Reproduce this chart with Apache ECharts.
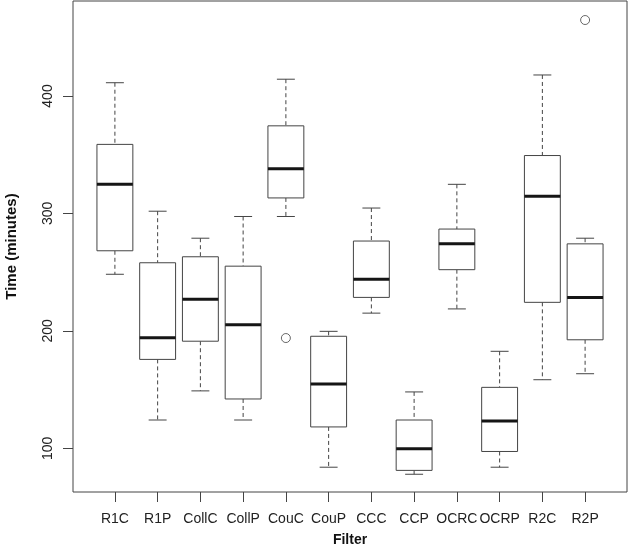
<!DOCTYPE html>
<html>
<head>
<meta charset="utf-8">
<script src="https://cdn.jsdelivr.net/npm/echarts@6/dist/echarts.min.js"></script>
<style>
html,body{margin:0;padding:0;background:#fff;}
#chart{width:630px;height:550px;}
</style>
</head>
<body>
<div id="chart"></div>
<script>
var categories = ['R1C','R1P','CollC','CollP','CouC','CouP','CCC','CCP','OCRC','OCRP','R2C','R2P'];
var whiskerLow  = [248.2, 124.1, 148.9, 124.1, 297.4,  83.9, 215.1,  77.9, 218.7,  83.9, 158.4, 163.5];
var quartile1   = [268.2, 175.7, 191.2, 142.0, 313.2, 118.2, 228.5,  81.2, 252.1,  97.3, 224.3, 192.4];
var medians     = [324.8, 194.2, 227.0, 205.2, 338.0, 154.8, 244.0,  99.7, 274.1, 123.2, 314.7, 228.5];
var quartile3   = [358.8, 258.0, 263.1, 255.1, 374.6, 195.4, 276.5, 124.1, 286.7, 151.9, 349.3, 274.1];
var whiskerHigh = [411.3, 301.9, 278.9, 297.4, 414.3, 199.6, 304.6, 148.0, 324.8, 182.6, 417.9, 278.9];
var outlierCats   = ['CouC', 'R2P'];
var outlierValues = [193.9, 464.7];
var yTicks = [100, 200, 300, 400];

var boxData = categories.map(function(c, i){
  return [i + 1, whiskerLow[i], quartile1[i], medians[i], quartile3[i], whiskerHigh[i]];
});
var outlierData = outlierCats.map(function(c, i){
  return [categories.indexOf(c) + 1, outlierValues[i]];
});
var xTicks = categories.map(function(c, i){ return i + 1; });

var LINE = '#444';
var FONT = "'Liberation Sans', Arial, sans-serif";

var chart = echarts.init(document.getElementById('chart'), null, {renderer:'canvas'});
chart.setOption({
  animation: false,
  backgroundColor: '#fff',
  grid: {left: 73, right: 3, top: 1, bottom: 58, outerBoundsMode: 'none', containLabel: false,
         show: true, borderColor: LINE, borderWidth: 1, backgroundColor: 'transparent'},
  xAxis: {
    type: 'value', min: 0.02, max: 12.98,
    name: 'Filter', nameLocation: 'middle', nameGap: 41,
    nameTextStyle: {fontFamily: FONT, fontWeight: 'bold', fontSize: 14, color: '#111'},
    axisLine: {show: false},
    splitLine: {show: false},
    axisTick: {show: true, length: 10, customValues: xTicks, lineStyle: {color: LINE, width: 1}},
    axisLabel: {customValues: xTicks, margin: 20, fontFamily: FONT, fontSize: 14, color: '#222',
      formatter: function(v){ return categories[Math.round(v) - 1] || ''; }}
  },
  yAxis: {
    type: 'value', min: 62.79, max: 480.9,
    name: 'Time (minutes)', nameLocation: 'middle', nameGap: 54,
    nameTextStyle: {fontFamily: FONT, fontWeight: 'bold', fontSize: 15, color: '#111'},
    axisLine: {show: false},
    splitLine: {show: false},
    axisTick: {show: true, length: 10, customValues: yTicks, lineStyle: {color: LINE, width: 1}},
    axisLabel: {customValues: yTicks, rotate: 90, margin: 18, fontFamily: FONT, fontSize: 14, color: '#222'}
  },
  series: [
    {
      type: 'custom',
      data: boxData,
      encode: {x: 0, y: [1, 2, 3, 4, 5]},
      renderItem: function(params, api){
        var x = api.value(0);
        var lo = api.coord([x, api.value(1)]);
        var q1 = api.coord([x, api.value(2)]);
        var md = api.coord([x, api.value(3)]);
        var q3 = api.coord([x, api.value(4)]);
        var hi = api.coord([x, api.value(5)]);
        var unit = api.size([1, 0])[0];
        var bw = unit * 0.84, cw = bw / 2;
        var cx = lo[0];
        var dashStyle = {stroke: LINE, lineWidth: 1, lineDash: [4, 3]};
        var solid = {stroke: LINE, lineWidth: 1};
        return {type: 'group', children: [
          {type: 'line', shape: {x1: cx, y1: hi[1], x2: cx, y2: q3[1]}, style: dashStyle},
          {type: 'line', shape: {x1: cx, y1: q1[1], x2: cx, y2: lo[1]}, style: dashStyle},
          {type: 'line', shape: {x1: cx - cw/2, y1: hi[1], x2: cx + cw/2, y2: hi[1]}, style: solid},
          {type: 'line', shape: {x1: cx - cw/2, y1: lo[1], x2: cx + cw/2, y2: lo[1]}, style: solid},
          {type: 'rect', shape: {x: cx - bw/2, y: q3[1], width: bw, height: q1[1] - q3[1]}, style: {fill: '#fff', stroke: LINE, lineWidth: 1}},
          {type: 'line', shape: {x1: cx - bw/2, y1: md[1], x2: cx + bw/2, y2: md[1]}, style: {stroke: '#151515', lineWidth: 3}}
        ]};
      }
    },
    {
      type: 'scatter',
      data: outlierData,
      symbol: 'circle',
      symbolSize: 9,
      itemStyle: {color: '#fff', borderColor: LINE, borderWidth: 1}
    }
  ]
});
</script>
</body>
</html>
